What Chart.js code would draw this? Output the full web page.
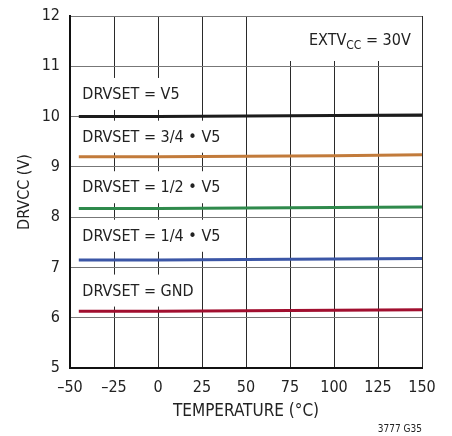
<!DOCTYPE html>
<html>
<head>
<meta charset="utf-8">
<script src="https://cdn.jsdelivr.net/npm/chart.js@4"></script>
<style>
  body { margin: 0; background: #fff; }
  #wrap { width: 452px; height: 436px; position: relative; }
</style>
</head>
<body>
<div id="wrap"><canvas id="chart" width="452" height="436"></canvas></div>
<script>
// Data
const temps = [-45, 0, 50, 100, 150];
const seriesNames = ["DRVSET = V5", "DRVSET = 3/4 • V5", "DRVSET = 1/2 • V5", "DRVSET = 1/4 • V5", "DRVSET = GND"];
const v5 = [10.0, 10.0, 10.01, 10.02, 10.03];
const v5ThreeQuarter = [9.2, 9.2, 9.21, 9.22, 9.24];
const v5Half = [8.17, 8.17, 8.18, 8.19, 8.2];
const v5Quarter = [7.15, 7.15, 7.16, 7.17, 7.18];
const gnd = [6.13, 6.13, 6.14, 6.15, 6.16];
const xTicks = [-50, -25, 0, 25, 50, 75, 100, 125, 150];
const yTicks = [5, 6, 7, 8, 9, 10, 11, 12];

const colors = ["#1c1c1c", "#c27b3b", "#2f8a4c", "#3b56a6", "#a10f2f"];
const allSeries = [v5, v5ThreeQuarter, v5Half, v5Quarter, gnd];
// where each label sits (value units, above its line)
const labelY = [10.43, 9.58, 8.575, 7.61, 6.52];

const FONT = "'Liberation Sans Narrow', 'DejaVu Sans Condensed', 'Liberation Sans', sans-serif";

const datasets = allSeries.map((vals, i) => ({
  label: seriesNames[i],
  data: temps.map((t, j) => ({ x: t, y: vals[j] })),
  borderColor: colors[i],
  borderWidth: 3,
  pointRadius: 0,
  tension: 0.3,
  fill: false,
}));

// Labels inside the plot, on white boxes that hide the grid
const textPlugin = {
  id: "plotText",
  beforeDatasetsDraw(chart) {
    const { ctx, scales } = chart;
    const xs = scales.x, ys = scales.y;
    ctx.save();
    ctx.font = "16px " + FONT;
    ctx.fillStyle = "#fff";
    seriesNames.forEach((name, i) => {
      const tx = xs.getPixelForValue(-43);
      const ty = ys.getPixelForValue(labelY[i]);
      const w = ctx.measureText(name).width;
      ctx.fillRect(xs.left + 1, ty - 17, tx - xs.left + w + 7, 32);
    });
    ctx.fillRect(290, ys.top + 1, xs.right - 291, 44);
    ctx.restore();
  },
  afterDatasetsDraw(chart) {
    const { ctx, scales } = chart;
    const xs = scales.x, ys = scales.y;
    ctx.save();
    ctx.fillStyle = "#222";
    ctx.font = "16px " + FONT;
    ctx.textBaseline = "middle";
    ctx.textAlign = "left";
    seriesNames.forEach((name, i) => {
      ctx.fillText(name, xs.getPixelForValue(-43), ys.getPixelForValue(labelY[i]));
    });

    // EXTVcc = 30V with subscript
    let x = 309, y = 41;
    ctx.fillText("EXTV", x, y);
    x += ctx.measureText("EXTV").width;
    ctx.font = "12px " + FONT;
    ctx.fillText("CC", x, y + 5);
    x += ctx.measureText("CC").width;
    ctx.font = "16px " + FONT;
    ctx.fillText(" = 30V", x, y);

    ctx.font = "10px " + FONT;
    ctx.textAlign = "right";
    ctx.fillText("3777 G35", 422, 429);
    ctx.restore();
  },
};

new Chart(document.getElementById("chart"), {
  type: "line",
  data: { datasets },
  options: {
    responsive: false,
    animation: false,
    layout: { padding: { top: 16, right: 30, left: 0, bottom: 0 } },
    plugins: { legend: { display: false }, tooltip: { enabled: false } },
    scales: {
      x: {
        type: "linear",
        min: -50,
        max: 150,
        afterBuildTicks: (s) => { s.ticks = xTicks.map((v) => ({ value: v })); },
        afterFit: (s) => { s.height = 68; },
        grid: { color: "#2a2a2a", lineWidth: 1, drawTicks: false },
        border: { color: "#111", width: 2 },
        ticks: {
          color: "#222",
          font: { family: FONT, size: 16 },
          padding: 10,
          maxRotation: 0,
          callback: (v) => String(v).replace("-", "\u2013"),
        },
        title: {
          display: true,
          text: "TEMPERATURE (°C)",
          color: "#222",
          font: { family: FONT, size: 17 },
          padding: { top: 4, bottom: 14 },
        },
      },
      y: {
        min: 5,
        max: 12,
        afterBuildTicks: (s) => { s.ticks = yTicks.map((v) => ({ value: v })); },
        afterFit: (s) => { s.width = 70; s.paddingTop = 0; s.paddingBottom = 0; },
        grid: { color: "#777", lineWidth: 1, drawTicks: false },
        border: { color: "#111", width: 2 },
        ticks: {
          color: "#222",
          font: { family: FONT, size: 16 },
          padding: 10,
        },
        title: {
          display: true,
          text: "DRVCC (V)",
          color: "#222",
          font: { family: FONT, size: 16 },
          padding: { top: 15, bottom: 0 },
        },
      },
    },
  },
  plugins: [textPlugin],
});
</script>
</body>
</html>
